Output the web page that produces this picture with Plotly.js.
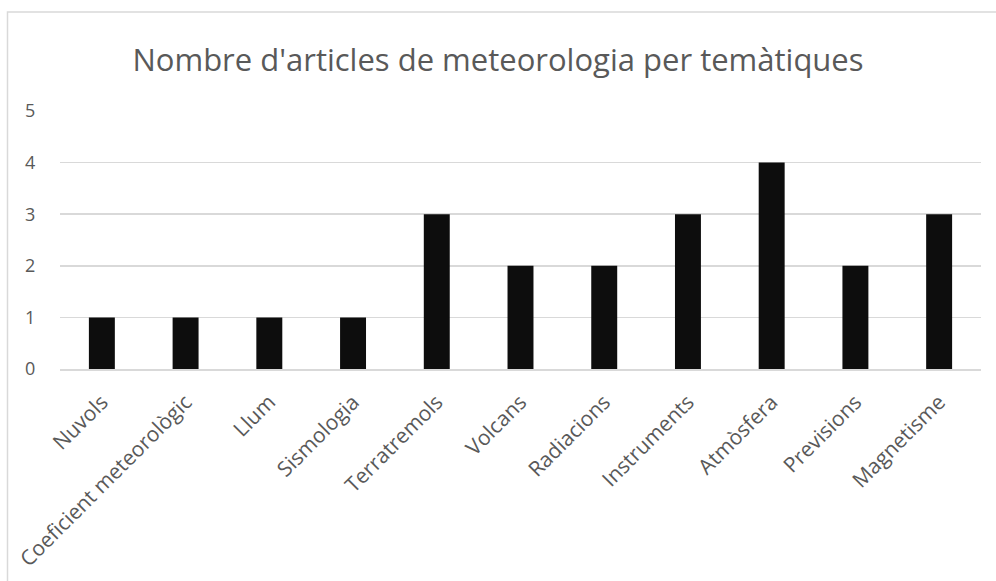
<!DOCTYPE html>
<html>
<head>
<meta charset="utf-8">
<script src="https://cdn.plot.ly/plotly-3.0.1.min.js"></script>
<style>html,body{margin:0;padding:0;background:#fff;}#chart{width:996px;height:581px;}</style>
</head>
<body>
<div id="chart"></div>
<script>
const categories = ["Nuvols", "Coeficient meteorològic", "Llum", "Sismologia", "Terratremols", "Volcans", "Radiacions", "Instruments", "Atmòsfera", "Previsions", "Magnetisme"];
const values = [1, 1, 1, 1, 3, 2, 2, 3, 4, 2, 3];
const yTicks = [0, 1, 2, 3, 4, 5];
const chartTitle = "Nombre d'articles de meteorologia per temàtiques";

const trace = {
  type: 'bar',
  x: categories,
  y: values,
  marker: {color: '#0d0d0d', line: {width: 0}},
  hoverinfo: 'x+y'
};

const layout = {
  width: 996,
  height: 581,
  margin: {l: 60, r: 15, t: 111, b: 212},
  paper_bgcolor: '#ffffff',
  plot_bgcolor: '#ffffff',
  bargap: 0.69,
  showlegend: false,
  title: {
    text: chartTitle,
    font: {family: 'Open Sans', size: 31, color: '#595959'},
    x: 0.5, xanchor: 'center',
    y: 0.897, yanchor: 'middle', yref: 'container'
  },
  xaxis: {
    type: 'category',
    tickangle: -45,
    tickfont: {family: 'Open Sans', size: 21, color: '#595959'},
    showgrid: false,
    showline: true,
    linecolor: '#d9d9d9',
    linewidth: 1.5,
    ticks: 'outside',
    ticklen: 11,
    tickcolor: 'rgba(0,0,0,0)',
    zeroline: false
  },
  yaxis: {
    range: [0, 5],
    tickvals: yTicks,
    ticktext: yTicks.map(String),
    tickfont: {family: 'Open Sans', size: 18, color: '#595959'},
    showgrid: true,
    gridcolor: '#d9d9d9',
    gridwidth: 1.5,
    zeroline: false,
    showline: false,
    ticks: 'outside',
    ticklen: 20,
    tickcolor: 'rgba(0,0,0,0)'
  },
  shapes: [{
    type: 'rect', xref: 'paper', yref: 'paper',
    x0: (7.5 - 60) / 921, x1: (1005 - 60) / 921,
    y0: (212 - 600) / 258, y1: (581 - 12 - 212) / 258,
    line: {color: '#d9d9d9', width: 1.5},
    fillcolor: 'rgba(0,0,0,0)',
    layer: 'below'
  }]
};

Plotly.newPlot('chart', [trace], layout, {displayModeBar: false, staticPlot: true});
</script>
</body>
</html>
